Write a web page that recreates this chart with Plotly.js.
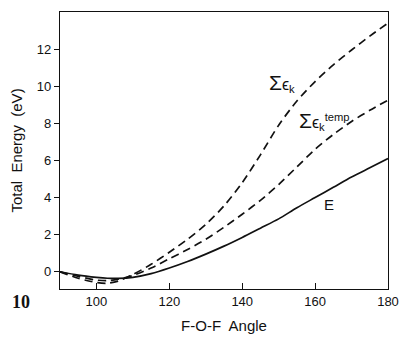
<!DOCTYPE html>
<html>
<head>
<meta charset="utf-8">
<script src="https://cdn.plot.ly/plotly-3.0.1.min.js"></script>
<style>
  html, body { margin: 0; padding: 0; background: #fff; }
  #chart { width: 402px; height: 337px; }
</style>
</head>
<body>
<div id="chart"></div>
<script>
// F-O-F bond angle (degrees)
const angle = [90, 95, 100, 103, 106, 110, 115, 120, 125, 130, 135, 140, 145, 150, 155, 160, 165, 170, 175, 180];

// Total energy E (eV)
const totalE = [0, -0.18, -0.3, -0.35, -0.36, -0.3, -0.1, 0.2, 0.55, 0.95, 1.38, 1.85, 2.35, 2.85, 3.45, 4.0, 4.55, 5.1, 5.6, 6.1];

// Sum of orbital energies
const sumEps = [0, -0.35, -0.58, -0.62, -0.5, -0.15, 0.4, 1.05, 1.75, 2.55, 3.55, 4.8, 6.3, 7.9, 9.2, 10.25, 11.15, 11.95, 12.7, 13.4];

// Sum of orbital energies, "temp" partition
const sumEpsTemp = [0, -0.25, -0.45, -0.48, -0.4, -0.2, 0.2, 0.7, 1.2, 1.75, 2.4, 3.1, 3.85, 4.7, 5.65, 6.6, 7.4, 8.1, 8.7, 9.25];

const xTicks = [100, 120, 140, 160, 180];
const yTicks = [0, 2, 4, 6, 8, 10, 12];

const ink = '#111';
const dashStyle = '8px,5px';

const traces = [
  { x: angle, y: sumEps, mode: 'lines', line: { color: ink, width: 1.7, dash: dashStyle, shape: 'spline', smoothing: 0.8 }, hoverinfo: 'skip' },
  { x: angle, y: sumEpsTemp, mode: 'lines', line: { color: ink, width: 1.7, dash: dashStyle, shape: 'spline', smoothing: 0.8 }, hoverinfo: 'skip' },
  { x: angle, y: totalE, mode: 'lines', line: { color: ink, width: 1.7, shape: 'spline', smoothing: 0.8 }, hoverinfo: 'skip' }
];

const fam = 'Liberation Sans, Arial, sans-serif';

const layout = {
  width: 402, height: 337,
  margin: { l: 60, r: 14, t: 12, b: 48 },
  paper_bgcolor: '#fff', plot_bgcolor: '#fff',
  showlegend: false,
  font: { family: fam, color: ink },
  xaxis: {
    range: [90, 180],
    tickvals: xTicks,
    ticktext: xTicks.map(String),
    ticks: 'inside', ticklen: 6, tickwidth: 1, tickcolor: ink,
    showline: true, linecolor: ink, linewidth: 1.2, mirror: true,
    showgrid: false, zeroline: false,
    tickfont: { size: 13, color: ink, family: fam },
    title: { text: 'F-O-F  Angle', font: { size: 15, color: ink, family: fam }, standoff: 12 }
  },
  yaxis: {
    range: [-0.93, 14],
    tickvals: yTicks,
    ticktext: yTicks.map(String),
    ticks: 'outside', ticklen: 5, tickwidth: 1, tickcolor: ink,
    showline: true, linecolor: ink, linewidth: 1.2, mirror: true,
    showgrid: false, zeroline: false,
    tickfont: { size: 13, color: ink, family: fam },
    title: { text: 'Total  Energy  (eV)', font: { size: 15, color: ink, family: fam }, standoff: 10 }
  },
  annotations: [
    { x: 151, y: 10.2, xref: 'x', yref: 'y', showarrow: false,
      text: '<span style="font-size:21px">Σ</span>ϵ<sub>k</sub>', font: { size: 16, color: ink, family: fam } },
    { x: 162.5, y: 8.1, xref: 'x', yref: 'y', showarrow: false,
      text: '<span style="font-size:21px">Σ</span>ϵ<sub>k</sub><sup>temp</sup>', font: { size: 16, color: ink, family: fam } },
    { x: 163.8, y: 3.6, xref: 'x', yref: 'y', showarrow: false,
      text: 'E', font: { size: 15, color: ink, family: fam } },
    // figure number, placed left of the x axis
    { x: (21 - 60) / 328, y: (277 - 290) / 277, xref: 'paper', yref: 'paper',
      xanchor: 'center', yanchor: 'middle', showarrow: false,
      text: '<b>10</b>', font: { size: 18, color: ink, family: 'Liberation Serif, serif' } }
  ]
};

Plotly.newPlot('chart', traces, layout, { displayModeBar: false, staticPlot: true });
</script>
</body>
</html>
